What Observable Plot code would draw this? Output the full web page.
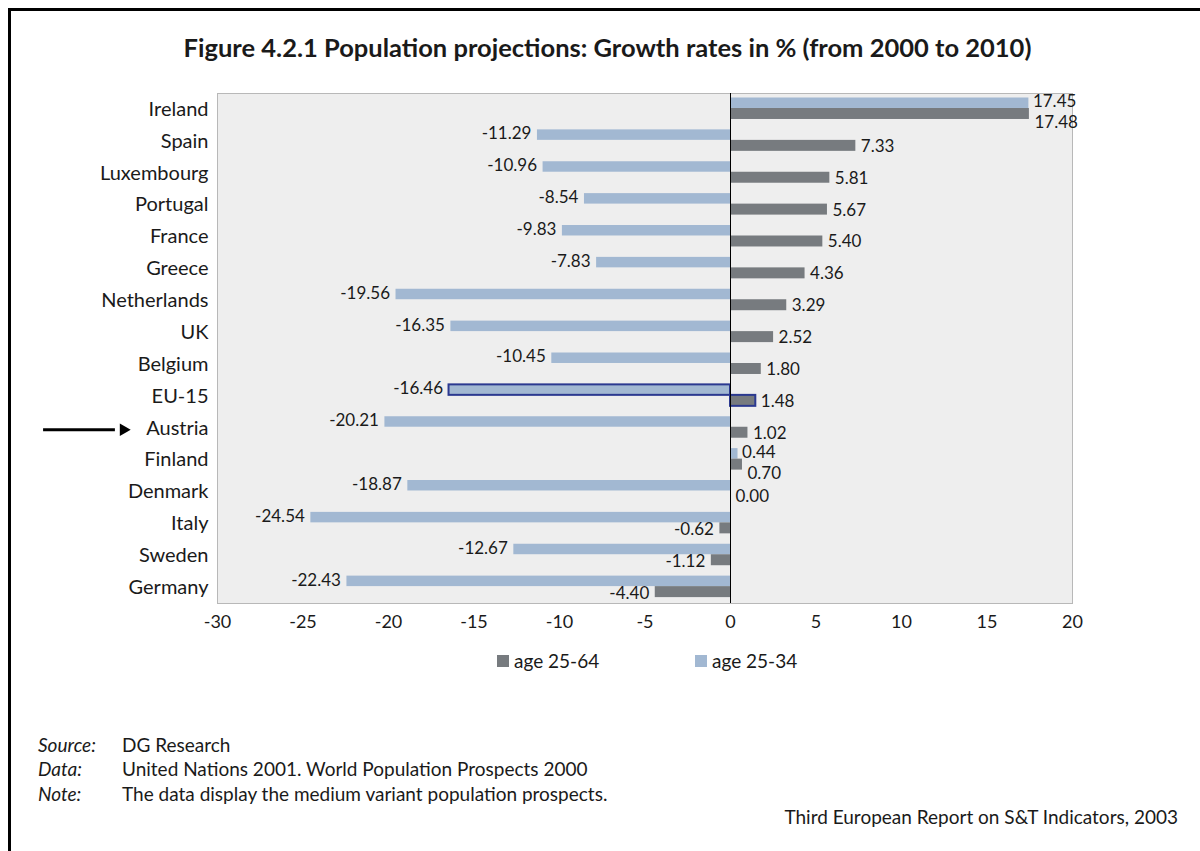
<!DOCTYPE html>
<html>
<head>
<meta charset="utf-8">
<script src="https://cdn.jsdelivr.net/npm/d3@7"></script>
<script src="https://cdn.jsdelivr.net/npm/@observablehq/plot@0.6"></script>
<style>
  html, body { margin: 0; padding: 0; background: #fff; }
  body { width: 1200px; height: 851px; position: relative; overflow: hidden; font-family: Lato, "Open Sans", sans-serif; color: #1a1a1a; }
  #frame { position: absolute; left: 8px; top: 8px; right: -10px; bottom: -10px; border-top: 3px solid #000; border-left: 3px solid #000; }
  #title { position: absolute; left: 0; width: 1215px; top: 32px; text-align: center; font-weight: bold; font-size: 25.5px; }
  #chart { position: absolute; left: 0; top: 0; }
  .leg { position: absolute; top: 649px; font-size: 19px; display: flex; align-items: center; }
  .sw { width: 12px; height: 12px; margin-right: 5px; }
  .foot { position: absolute; font-size: 19px; }
  .foot i { display: inline-block; width: 84px; }
</style>
</head>
<body>
<div id="frame"></div>
<div id="title">Figure 4.2.1 Population projections: Growth rates in % (from 2000 to 2010)</div>
<div id="chart"></div>
<div class="leg" style="left:497px"><div class="sw" style="background:#777b7f"></div>age 25-64</div>
<div class="leg" style="left:695px"><div class="sw" style="background:#a2b8d2"></div>age 25-34</div>
<div class="foot" style="left:38px; top:733px"><i>Source:</i>DG Research</div>
<div class="foot" style="left:38px; top:757px"><i>Data:</i>United Nations 2001. World Population Prospects 2000</div>
<div class="foot" style="left:38px; top:782px"><i>Note:</i>The data display the medium variant population prospects.</div>
<div class="foot" style="right:22px; top:805px">Third European Report on S&amp;T Indicators, 2003</div>
<script>
const countries = ["Ireland","Spain","Luxembourg","Portugal","France","Greece","Netherlands","UK","Belgium","EU-15","Austria","Finland","Denmark","Italy","Sweden","Germany"];
const age2564 = [17.48, 7.33, 5.81, 5.67, 5.40, 4.36, 3.29, 2.52, 1.80, 1.48, 1.02, 0.70, 0.00, -0.62, -1.12, -4.40];
const age2534 = [17.45, -11.29, -10.96, -8.54, -9.83, -7.83, -19.56, -16.35, -10.45, -16.46, -20.21, 0.44, -18.87, -24.54, -12.67, -22.43];
const xTicks = [-30, -25, -20, -15, -10, -5, 0, 5, 10, 15, 20];
const highlight = "EU-15";
const pointedAt = ["Austria"];

const rows = countries.map((c, i) => ({country: c, a64: age2564[i], a34: age2534[i]}));
const fmt = v => v.toFixed(2);
const lightC = "#a2b8d2", darkC = "#777b7f", navy = "#2b3990";
const L = {insetTop: 4.5, insetBottom: 16.9};
const D = {insetTop: 15, insetBottom: 5.9};
const lab = {fill: "#1a1a1a", fontSize: 17};
// rows where both labels sit on the same side of zero get pushed apart
const same = d => (d.a34 >= 0) === (d.a64 >= 0);
const arrowRows = pointedAt.map(c => ({country: c}));

const chart = Plot.plot({
  width: 1200,
  height: 640,
  marginLeft: 217,
  marginRight: 128,
  marginTop: 93,
  marginBottom: 37,
  style: {fontFamily: "Lato, 'Open Sans', sans-serif", fontSize: "18px", color: "#1a1a1a", background: "transparent"},
  x: {domain: [-30, 20]},
  y: {domain: countries, padding: 0, round: false},
  marks: [
    Plot.frame({fill: "#eeeeee", stroke: "#b8b8b8"}),
    Plot.barX(rows, {x: "a34", y: "country", fill: lightC, ...L}),
    Plot.barX(rows, {x: "a64", y: "country", fill: darkC, ...D}),
    Plot.barX(rows.filter(d => d.country === highlight), {x: "a34", y: "country", fill: "none", stroke: navy, strokeWidth: 2, ...L}),
    Plot.barX(rows.filter(d => d.country === highlight), {x: "a64", y: "country", fill: "none", stroke: navy, strokeWidth: 2, ...D}),
    Plot.ruleX([0], {stroke: "#000", strokeWidth: 1}),
    Plot.text(rows.filter(d => d.a34 >= 0), {x: "a34", y: "country", text: d => fmt(d.a34), dy: -7.5, dx: 4, textAnchor: "start", ...lab}),
    Plot.text(rows.filter(d => d.a34 < 0), {x: "a34", y: "country", text: d => fmt(d.a34), dy: -7.5, dx: -6, textAnchor: "end", ...lab}),
    Plot.text(rows.filter(d => d.a64 >= 0 && !same(d)), {x: "a64", y: "country", text: d => fmt(d.a64), dy: 5, dx: 5, textAnchor: "start", ...lab}),
    Plot.text(rows.filter(d => d.a64 >= 0 && same(d)), {x: "a64", y: "country", text: d => fmt(d.a64), dy: 13, dx: 5, textAnchor: "start", ...lab}),
    Plot.text(rows.filter(d => d.a64 < 0), {x: "a64", y: "country", text: d => fmt(d.a64), dy: 6, dx: -6, textAnchor: "end", ...lab}),
    Plot.axisX({ticks: xTicks, tickFormat: d => String(d), tickSize: 0, tickPadding: 12, label: null, fontSize: 18}),
    Plot.axisY({tickSize: 0, tickPadding: 9, label: null, fontSize: 20}),
    // annotation arrow in the left margin pointing at Austria
    Plot.link(arrowRows, {x1: () => -40.2, x2: () => -36.0, y1: "country", y2: "country", dy: 1.5, stroke: "#000", strokeWidth: 3}),
    Plot.dot(arrowRows, {x: () => -35.5, y: "country", dy: 1.5, symbol: "triangle2", rotate: 90, r: 6, fill: "#000", stroke: "none"})
  ]
});
document.getElementById("chart").appendChild(chart);
</script>
</body>
</html>
